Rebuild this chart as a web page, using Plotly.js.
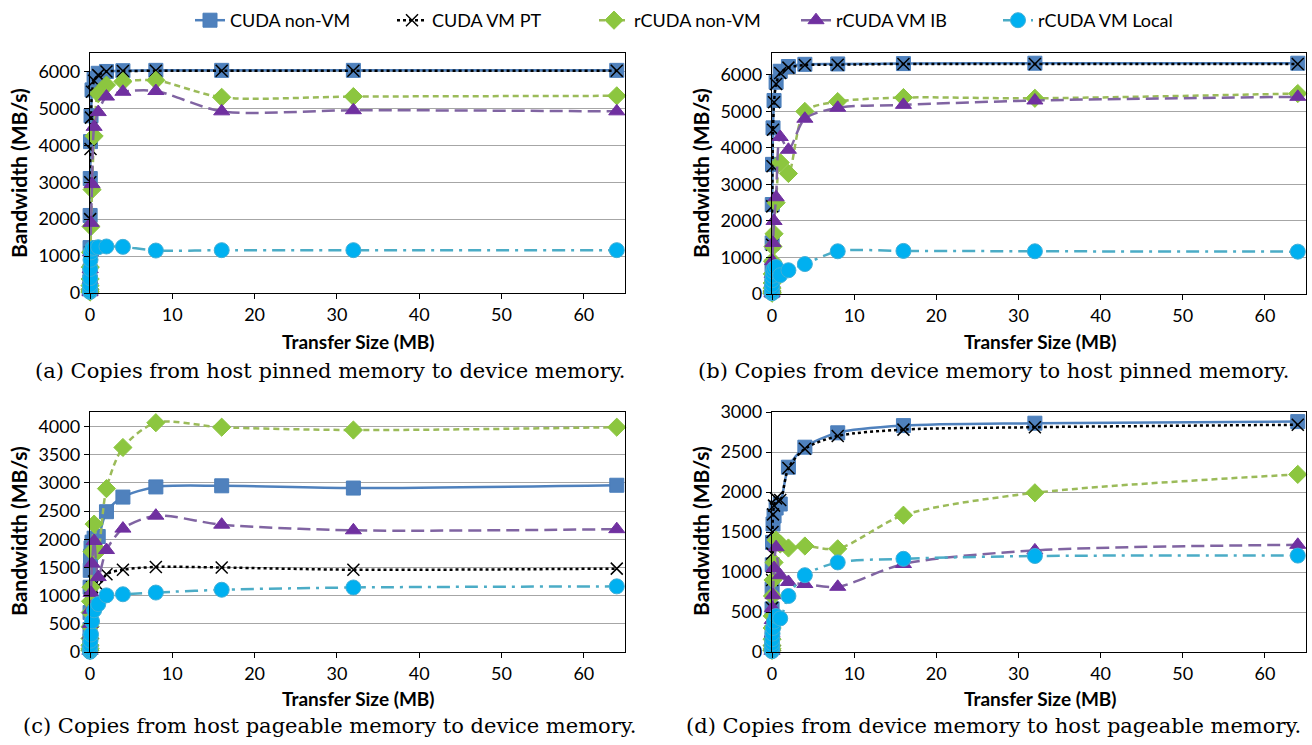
<!DOCTYPE html>
<html>
<head>
<meta charset="utf-8">
<script src="https://cdn.plot.ly/plotly-3.0.1.min.js"></script>
<style>
html,body{margin:0;padding:0;background:#fff;}
#chart{width:1312px;height:745px;}
</style>
</head>
<body>
<div id="chart"></div>
<script>
// Transfer sizes (MB): 1 KB .. 64 MB
const transferSizesMB = [0.0009765625, 0.001953125, 0.00390625, 0.0078125, 0.015625, 0.03125, 0.0625, 0.125, 0.25, 0.5, 1, 2, 4, 8, 16, 32, 64];

const seriesNames = ["CUDA non-VM", "CUDA VM PT", "rCUDA non-VM", "rCUDA VM IB", "rCUDA VM Local"];

// (a) host pinned -> device
const aCudaNonVM    = [150, 300, 600, 1230, 2100, 3100, 4100, 4800, 5500, 5800, 5950, 6000, 6020, 6030, 6030, 6030, 6030];
const aCudaVmPT     = [130, 270, 550, 1100, 2000, 3000, 3900, 4750, 5450, 5750, 5900, 6000, 6010, 6020, 6020, 6020, 6020];
const aRcudaNonVM   = [25, 50, 100, 200, 380, 700, 1100, 1800, 2800, 4250, 5400, 5630, 5730, 5760, 5300, 5320, 5340];
const aRcudaVmIB    = [20, 45, 90, 180, 350, 650, 1100, 1900, 2950, 4500, 4900, 5320, 5450, 5470, 4920, 4950, 4920];
const aRcudaVmLocal = [30, 60, 120, 220, 400, 650, 900, 1100, 1200, 1220, 1240, 1260, 1250, 1150, 1160, 1160, 1160];

// (b) device -> host pinned
const bCudaNonVM    = [90, 180, 380, 750, 1400, 2450, 3550, 4550, 5300, 5800, 6100, 6230, 6290, 6300, 6310, 6320, 6320];
const bCudaVmPT     = [85, 170, 360, 720, 1350, 2400, 3500, 4500, 5250, 5750, 6050, 6200, 6270, 6280, 6300, 6300, 6300];
const bRcudaNonVM   = [20, 40, 80, 160, 300, 550, 900, 1300, 1650, 2500, 3600, 3300, 5000, 5270, 5380, 5360, 5490];
const bRcudaVmIB    = [20, 40, 80, 160, 300, 550, 900, 1400, 2000, 2650, 4300, 3950, 4800, 5100, 5180, 5300, 5400];
const bRcudaVmLocal = [20, 40, 80, 150, 250, 380, 500, 620, 700, 740, 515, 650, 820, 1170, 1180, 1170, 1160];

// (c) host pageable -> device
const cCudaNonVM    = [100, 200, 400, 700, 1150, 1450, 1700, 1850, 1950, 2020, 2050, 2490, 2750, 2930, 2950, 2910, 2960];
const cCudaVmPT     = [50, 100, 200, 380, 600, 800, 950, 1050, 1150, 1250, 1180, 1380, 1460, 1510, 1500, 1460, 1480];
const cRcudaNonVM   = [30, 60, 120, 240, 450, 700, 900, 1150, 1780, 2270, 1800, 2900, 3630, 4070, 3990, 3940, 3990];
const cRcudaVmIB    = [20, 40, 80, 160, 300, 500, 750, 1050, 1570, 1970, 1330, 1810, 2190, 2420, 2260, 2160, 2180];
const cRcudaVmLocal = [5, 10, 20, 40, 70, 120, 200, 310, 545, 740, 850, 1005, 1025, 1055, 1105, 1145, 1165];

// (d) device -> host pageable
const dCudaNonVM    = [60, 120, 250, 540, 790, 1090, 1370, 1600, 1700, 1800, 1850, 2310, 2560, 2740, 2830, 2860, 2880];
const dCudaVmPT     = [40, 90, 200, 550, 900, 1230, 1500, 1720, 1830, 1920, 1900, 2300, 2540, 2700, 2780, 2810, 2840];
const dRcudaNonVM   = [20, 40, 80, 160, 300, 450, 700, 900, 1120, 1400, 1350, 1300, 1325, 1290, 1710, 1990, 2220];
const dRcudaVmIB    = [15, 30, 60, 120, 230, 400, 550, 710, 1050, 1310, 960, 875, 850, 815, 1100, 1270, 1340];
const dRcudaVmLocal = [10, 20, 40, 70, 110, 160, 230, 300, 380, 450, 420, 700, 960, 1120, 1165, 1200, 1205];

const captions = [
  "(a) Copies from host pinned memory to device memory.",
  "(b) Copies from device memory to host pinned memory.",
  "(c) Copies from host pageable memory to device memory.",
  "(d) Copies from device memory to host pageable memory."
];
const xTitle = "Transfer Size (MB)";
const yTitle = "Bandwidth (MB/s)";

const panels = [
  {xa: "x",  ya: "y",  data: [aCudaNonVM, aCudaVmPT, aRcudaNonVM, aRcudaVmIB, aRcudaVmLocal]},
  {xa: "x2", ya: "y2", data: [bCudaNonVM, bCudaVmPT, bRcudaNonVM, bRcudaVmIB, bRcudaVmLocal]},
  {xa: "x3", ya: "y3", data: [cCudaNonVM, cCudaVmPT, cRcudaNonVM, cRcudaVmIB, cRcudaVmLocal]},
  {xa: "x4", ya: "y4", data: [dCudaNonVM, dCudaVmPT, dRcudaNonVM, dRcudaVmIB, dRcudaVmLocal]}
];

const styles = [
  {line: {color: "#4F81BD", width: 2.5, dash: "solid"}, marker: {symbol: "square", size: 14, color: "#4F81BD", line: {color: "#4A7EBB", width: 1}}},
  {line: {color: "#000000", width: 2.5, dash: "dot"}, marker: {symbol: "x-thin", size: 12, color: "#000000", line: {color: "#000000", width: 1.5}}},
  {line: {color: "#9BBB59", width: 2.5, dash: "6px,4px"}, marker: {symbol: "diamond", size: 14, color: "#8CC63F", line: {color: "#8CC63F", width: 1}}},
  {line: {color: "#8064A2", width: 2.5, dash: "13px,6px"}, marker: {symbol: "triangle-up", size: 14, color: "#7030A0", line: {color: "#7030A0", width: 1}}},
  {line: {color: "#4BACC6", width: 2.5, dash: "13px,6px,3px,6px"}, marker: {symbol: "circle", size: 15, color: "#00B0F0", line: {color: "#3FAFD8", width: 1}}}
];

const traces = [];
panels.forEach((p, pi) => {
  p.data.forEach((vals, si) => {
    traces.push({
      type: "scatter",
      mode: "lines+markers",
      x: transferSizesMB,
      y: vals,
      xaxis: p.xa,
      yaxis: p.ya,
      name: seriesNames[si],
      legendgroup: seriesNames[si],
      showlegend: pi === 0,
      line: Object.assign({shape: "spline", smoothing: 0.8}, styles[si].line),
      marker: styles[si].marker,
      cliponaxis: false
    });
  });
});

const W = 1312, H = 745;
const fx = v => v / W;
const fy = v => 1 - v / H;

const tickFont = {family: "Lato, 'Open Sans', sans-serif", size: 18, color: "#000"};
function xAxis(l, r, anchor) {
  return {domain: [fx(l), fx(r)], range: [0, 65], dtick: 10, tick0: 0, anchor: anchor,
    showgrid: false, zeroline: false, showline: true, mirror: true, linecolor: "#000", linewidth: 1.2,
    ticks: "outside", ticklen: 5, tickcolor: "#000", tickfont: tickFont};
}
function yAxis(t, b, max, dtick, anchor) {
  return {domain: [fy(b), fy(t)], range: [0, max], dtick: dtick, tick0: 0, anchor: anchor,
    showgrid: true, gridcolor: "#A6A6A6", gridwidth: 1, zeroline: false, showline: true, mirror: true,
    linecolor: "#000", linewidth: 1.2, ticks: "outside", ticklen: 5, tickcolor: "#000", tickfont: tickFont};
}

const titleFont = {family: "Lato, 'Open Sans', sans-serif", size: 19, color: "#000", weight: "bold"};
const yTitleFont = {family: "Lato, 'Open Sans', sans-serif", size: 21, color: "#000", weight: "bold"};
const capFont = {family: "'DejaVu Serif', 'Liberation Serif', serif", size: 21, color: "#000"};

function ann(text, px, py, font, angle) {
  return {text: text, x: fx(px), y: fy(py), xref: "paper", yref: "paper", xanchor: "center", yanchor: "middle",
    showarrow: false, font: font, textangle: angle || 0};
}

const annotations = [
  ann("<b>" + xTitle + "</b>", 358, 341, titleFont),
  ann("<b>" + xTitle + "</b>", 1040, 341, titleFont),
  ann("<b>" + xTitle + "</b>", 358, 698, titleFont),
  ann("<b>" + xTitle + "</b>", 1040, 698, titleFont),
  ann("<b>" + yTitle + "</b>", 18, 173, yTitleFont, -90),
  ann("<b>" + yTitle + "</b>", 700, 173, yTitleFont, -90),
  ann("<b>" + yTitle + "</b>", 18, 531, yTitleFont, -90),
  ann("<b>" + yTitle + "</b>", 700, 531, yTitleFont, -90),
  ann(captions[0], 330, 371, capFont),
  ann(captions[1], 993, 371, capFont),
  ann(captions[2], 330, 726, capFont),
  ann(captions[3], 994, 726, capFont)
];

const layout = {
  width: W, height: H,
  margin: {l: 0, r: 0, t: 0, b: 0},
  paper_bgcolor: "#fff", plot_bgcolor: "#fff",
  showlegend: true,
  legend: {orientation: "h", x: fx(190), y: fy(2), xanchor: "left", yanchor: "top",
    font: {family: "Lato, 'Open Sans', sans-serif", size: 18, color: "#000"},
    entrywidth: 157, entrywidthmode: "pixels", itemwidth: 30, tracegroupgap: 0, bgcolor: "rgba(0,0,0,0)"},
  xaxis: xAxis(90, 625, "y"),
  yaxis: yAxis(53, 293, 6500, 1000, "x"),
  xaxis2: xAxis(772, 1306, "y2"),
  yaxis2: yAxis(53, 294, 6600, 1000, "x2"),
  xaxis3: xAxis(90, 625, "y3"),
  yaxis3: yAxis(412, 652, 4260, 500, "x3"),
  xaxis4: xAxis(772, 1306, "y4"),
  yaxis4: yAxis(412, 652, 3000, 500, "x4"),
  annotations: annotations
};

Plotly.newPlot("chart", traces, layout, {staticPlot: true, displayModeBar: false});
</script>
</body>
</html>
